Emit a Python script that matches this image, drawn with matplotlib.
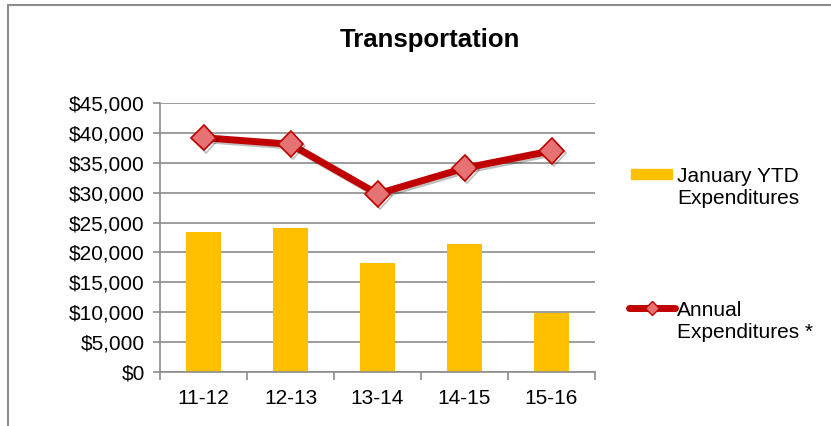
import matplotlib
matplotlib.use("Agg")
import matplotlib.pyplot as plt
from matplotlib.patches import Rectangle
from matplotlib.lines import Line2D
from matplotlib.ticker import FuncFormatter, MultipleLocator
import matplotlib.patheffects as pe

categories = ["11-12", "12-13", "13-14", "14-15", "15-16"]
ytd = [23400, 24100, 18200, 21400, 9900]
annual = [39200, 38100, 29800, 34100, 37000]

plt.rcParams['font.family'] = ['Liberation Sans', 'DejaVu Sans']

W, H = 831, 426
fig = plt.figure(figsize=(W/100, H/100), dpi=100)
fig.patches.append(Rectangle((8/W, -0.1), 1.2, 1 - 5/H + 0.1, transform=fig.transFigure,
                             fill=False, edgecolor='#8c8c8c', linewidth=1.5))

ax = fig.add_axes([160/W, 1 - 372/H, (595-160)/W, (372-103)/H])
x = list(range(len(categories)))
ax.bar(x, ytd, width=0.4, color='#FFC000', zorder=2)
ax.plot(x, annual, color='#C00000', linewidth=5, marker='D', markersize=13,
        markerfacecolor='#E57373', markeredgecolor='#C00000', markeredgewidth=1.2,
        zorder=3, path_effects=[pe.SimpleLineShadow(offset=(1.5, -1.5), alpha=0.25), pe.Normal()])

ax.set_xlim(-0.5, 4.5)
ax.set_ylim(0, 45000)
ax.yaxis.set_major_locator(MultipleLocator(5000))
ax.yaxis.set_major_formatter(FuncFormatter(lambda v, p: f"${int(v):,}"))
ax.grid(axis='y', color='#8c8c8c', linewidth=1.2, zorder=0)
ax.set_axisbelow(True)
for s in ['top', 'right']:
    ax.spines[s].set_visible(False)
for s in ['left', 'bottom']:
    ax.spines[s].set_color('#8c8c8c')
    ax.spines[s].set_linewidth(1.2)
ax.set_xticks(x)
ax.set_xticklabels(categories, fontsize=15)
ax.set_xticks([i - 0.5 for i in range(6)], minor=True)
ax.tick_params(axis='x', which='major', length=0, pad=12)
ax.tick_params(axis='x', which='minor', length=6, color='#8c8c8c', width=1.2)
ax.tick_params(axis='y', length=5, color='#8c8c8c', width=1.2, labelsize=15, direction='out', pad=6)

fig.text(430/W, 1 - 40/H, "Transportation", ha='center', va='center', fontsize=18.5, fontweight='bold')

# legend
fig.patches.append(Rectangle((631/W, 1 - 179/H), 41/W, 10/H, transform=fig.transFigure,
                             color='#FFC000'))
fig.text(677/W, 1 - 187/H, "January YTD\nExpenditures", ha='left', va='center', fontsize=15,
         linespacing=1.2)
fig.lines.append(Line2D([629/W, 675/W], [1 - 308/H, 1 - 308/H], transform=fig.transFigure,
                        color='#C00000', linewidth=5, solid_capstyle='round'))
fig.lines.append(Line2D([652/W], [1 - 308/H], transform=fig.transFigure, marker='D', markersize=7,
                        markerfacecolor='#E57373', markeredgecolor='#C00000', markeredgewidth=1))
fig.text(677/W, 1 - 321/H, "Annual\nExpenditures *", ha='left', va='center', fontsize=15,
         linespacing=1.2)

fig.savefig("out.png", dpi=100)
